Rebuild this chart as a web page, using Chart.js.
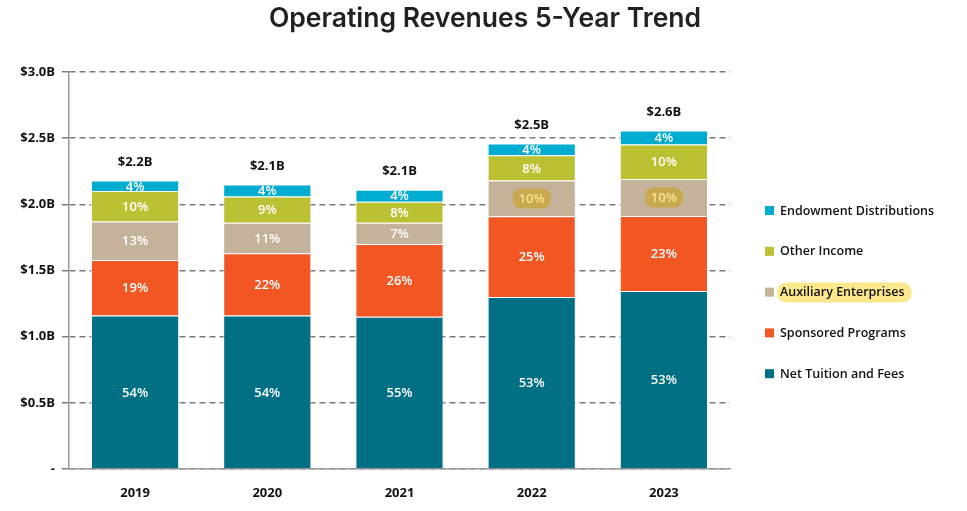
<!DOCTYPE html>
<html>
<head>
<meta charset="utf-8">
<script src="https://cdn.jsdelivr.net/npm/chart.js@4"></script>
<style>
  html, body { margin: 0; padding: 0; background: #fff; }
  #wrap { width: 967px; height: 511px; }
</style>
</head>
<body>
<div id="wrap"><canvas id="revChart"></canvas></div>
<script>
// values in $ billions
var years = ['2019', '2020', '2021', '2022', '2023'];
var netTuition  = [1.16, 1.16, 1.15, 1.30, 1.345];
var sponsored   = [0.42, 0.47, 0.55, 0.61, 0.567];
var auxiliary   = [0.29, 0.23, 0.16, 0.27, 0.28];
var otherIncome = [0.23, 0.20, 0.16, 0.19, 0.26];
var endowment   = [0.08, 0.09, 0.09, 0.09, 0.105];

var pctTuition   = ['54%', '54%', '55%', '53%', '53%'];
var pctSponsored = ['19%', '22%', '26%', '25%', '23%'];
var pctAuxiliary = ['13%', '11%', '7%', '10%', '10%'];
var pctOther     = ['10%', '9%', '8%', '8%', '10%'];
var pctEndow     = ['4%', '4%', '4%', '4%', '4%'];
var totalLabels  = ['$2.2B', '$2.1B', '$2.1B', '$2.5B', '$2.6B'];
var yTickLabels  = ['-', '$0.5B', '$1.0B', '$1.5B', '$2.0B', '$2.5B', '$3.0B'];

var FONT = '"Open Sans", "Liberation Sans", sans-serif';
var TITLE = 'Operating Revenues 5-Year Trend';

function roundRect(ctx, x, y, w, h, r) {
    ctx.beginPath();
    ctx.moveTo(x + r, y);
    ctx.lineTo(x + w - r, y);
    ctx.arcTo(x + w, y, x + w, y + r, r);
    ctx.lineTo(x + w, y + h - r);
    ctx.arcTo(x + w, y + h, x + w - r, y + h, r);
    ctx.lineTo(x + r, y + h);
    ctx.arcTo(x, y + h, x, y + h - r, r);
    ctx.lineTo(x, y + r);
    ctx.arcTo(x, y, x + r, y, r);
    ctx.closePath();
}

// title, percent labels inside segments, totals above, legend on the right
var labelPlugin = {
    id: 'labels',
    afterDatasetsDraw: function (chart) {
        var ctx = chart.ctx;
        ctx.save();
        ctx.textAlign = 'center';
        ctx.textBaseline = 'middle';

        ctx.fillStyle = '#222';
        ctx.font = '600 26.5px Inter, Roboto, sans-serif';
        ctx.fillText(TITLE, 485, 19);

        chart.data.datasets.forEach(function (ds, di) {
            var meta = chart.getDatasetMeta(di);
            meta.data.forEach(function (bar, i) {
                var cy = (bar.y + bar.base) / 2;
                var txt = ds.pct[i];
                ctx.font = '600 13px ' + FONT;
                if (ds.highlight && ds.highlight[i]) {
                    var w = ctx.measureText(txt).width + 12;
                    ctx.fillStyle = '#c9a94f';
                    roundRect(ctx, bar.x - w / 2, cy - 10, w, 20, 8);
                    ctx.fill();
                    ctx.fillStyle = '#f7e38e';
                } else {
                    ctx.fillStyle = '#ffffff';
                }
                ctx.fillText(txt, bar.x, cy + 1);
            });
        });
        // totals above the top segment
        var top = chart.getDatasetMeta(chart.data.datasets.length - 1);
        ctx.fillStyle = '#111';
        ctx.font = 'bold 13px ' + FONT;
        top.data.forEach(function (bar, i) {
            ctx.fillText(totalLabels[i], bar.x, bar.y - 18);
        });

        // legend (reverse order, as in the reference)
        ctx.textAlign = 'left';
        var lx = 765, ly = 211, step = 40.8;
        ctx.font = '600 12.5px ' + FONT;
        for (var k = chart.data.datasets.length - 1, n = 0; k >= 0; k--, n++) {
            var d = chart.data.datasets[k];
            var y = ly + n * step;
            if (d.legendHighlight) {
                var tw = ctx.measureText(d.label).width;
                ctx.fillStyle = '#fbe88c';
                roundRect(ctx, lx + 12, y - 10, tw + 10, 20, 9);
                ctx.fill();
            }
            ctx.fillStyle = d.backgroundColor;
            ctx.fillRect(lx, y - 5, 9, 9);
            ctx.fillStyle = '#111';
            ctx.fillText(d.label, lx + 15, y);
        }
        ctx.restore();
    }
};

var ctx = document.getElementById('revChart').getContext('2d');
var revChart = new Chart(ctx, {
    type: 'bar',
    data: {
        labels: years,
        datasets: [
            { label: 'Net Tuition and Fees', data: netTuition, backgroundColor: '#016f84', pct: pctTuition },
            { label: 'Sponsored Programs', data: sponsored, backgroundColor: '#f15623', pct: pctSponsored },
            { label: 'Auxiliary Enterprises', data: auxiliary, backgroundColor: '#c4b29a', pct: pctAuxiliary,
              highlight: [false, false, false, true, true], legendHighlight: true },
            { label: 'Other Income', data: otherIncome, backgroundColor: '#bcc133', pct: pctOther },
            { label: 'Endowment Distributions', data: endowment, backgroundColor: '#00acd0', pct: pctEndow }
        ]
    },
    options: {
        responsive: true,
        maintainAspectRatio: false,
        animation: false,
        datasets: {
            bar: {
                categoryPercentage: 1,
                barPercentage: 0.667,
                borderColor: 'rgba(255,255,255,0.7)',
                borderWidth: 1,
                borderSkipped: 'bottom'
            }
        },
        layout: { padding: { left: 0, right: 237, top: 72, bottom: 0 } },
        plugins: {
            legend: { display: false },
            tooltip: { enabled: false },
            title: { display: false }
        },
        scales: {
            x: {
                stacked: true,
                grid: { display: false },
                border: { color: '#999', width: 1.5 },
                ticks: { color: '#111', font: { family: FONT, size: 13, weight: 'bold' }, padding: 8 },
                afterFit: function (s) { s.height = 42; }
            },
            y: {
                stacked: true,
                min: 0,
                max: 3,
                border: { color: '#999', width: 1.5, dash: [6, 4] },
                grid: {
                    color: '#7a7a7a',
                    lineWidth: 1.5,
                    tickBorderDash: [6, 4],
                    tickLength: 7
                },
                ticks: {
                    stepSize: 0.5,
                    color: '#111',
                    padding: 7,
                    font: { family: FONT, size: 13, weight: 'bold' },
                    callback: function (v, i) { return yTickLabels[i]; }
                },
                afterFit: function (s) { s.width = 69; }
            }
        }
    },
    plugins: [labelPlugin]
});
</script>
</body>
</html>
